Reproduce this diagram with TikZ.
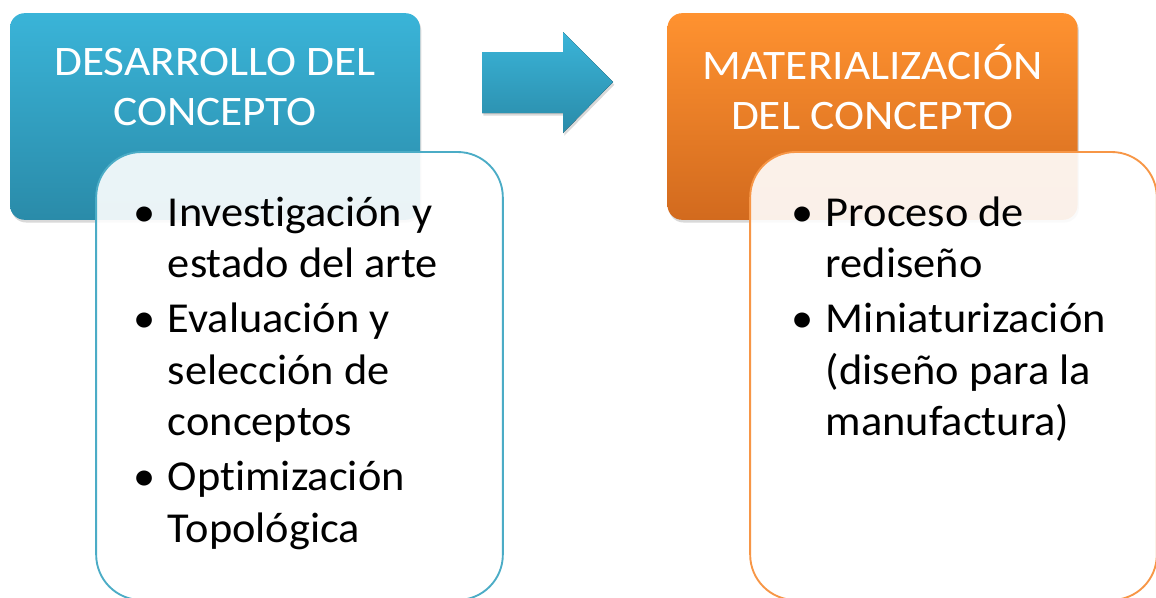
\documentclass[tikz,border=0pt]{standalone}
\usepackage{fontspec}
\setmainfont{Carlito}[Ligatures=NoCommon]
\newfontfamily\titlefont{Carlito}[FakeStretch=1.08,Ligatures=NoCommon]
\newfontfamily\listfont{Carlito}[FakeStretch=1.04,Ligatures=NoCommon]
\usetikzlibrary{shadows}
\definecolor{bluetop}{HTML}{3AB4D8}
\definecolor{bluebot}{HTML}{2A8BA9}
\definecolor{blueline}{HTML}{4BACC6}
\definecolor{orangetop}{HTML}{FF9230}
\definecolor{orangebot}{HTML}{D26A1E}
\definecolor{orangeline}{HTML}{F79646}
\newcommand{\bitem}[1]{\par\hangindent=26pt\hangafter=1\noindent\makebox[26pt][l]{•}#1\par\vspace{3pt}}
\tikzset{
  header/.style={rounded corners=11pt,minimum width=307.5pt,minimum height=155pt,inner sep=0pt,
    drop shadow={shadow xshift=1pt,shadow yshift=-2pt,opacity=0.3}},
  title/.style={text=white,align=center,font=\titlefont\fontsize{31.5}{38}\selectfont},
  listbox/.style={draw,line width=1.4pt,rounded corners=34pt,fill=white,fill opacity=0.9,
    minimum width=305pt,minimum height=336pt,inner sep=0pt},
  listtext/.style={anchor=base west,inner sep=0pt,font=\listfont\fontsize{32}{38.5}\selectfont}
}
\begin{document}
\begin{tikzpicture}[x=0.75pt,y=-0.75pt]
\useasboundingbox (0,0) rectangle (1156,597);
\clip (0,0) rectangle (1156,597);
% left block
\node[header,top color=bluetop,bottom color=bluebot] (dev) at (215,116.5) {};
\node[title] (devtitle) at (215,87) {DESARROLLO DEL\\CONCEPTO};
\node[listbox,draw=blueline] (devlist) at (299.5,376) {};
\node[listtext] (devitems) at (133,226) {\parbox[t]{300pt}{%
  \bitem{Investigación y\newline estado del arte}
  \bitem{Evaluación y\newline selección de\newline conceptos}
  \bitem{Optimización\newline Topológica}}};
% arrow
\fill[top color=bluetop,bottom color=bluebot,drop shadow={shadow xshift=1pt,shadow yshift=-2pt,opacity=0.3}]
  (482,52) -- (563,52) -- (563,32) -- (613,82) -- (563,133) -- (563,113) -- (482,113) -- cycle;
% right block
\node[header,top color=orangetop,bottom color=orangebot] (mat) at (872.5,116.5) {};
\node[title] (mattitle) at (872.5,87) {MATERIALIZACIÓN\\DEL CONCEPTO};
\node[listbox,draw=orangeline] (matlist) at (953.5,376) {};
\node[listtext] (matitems) at (791,226) {\parbox[t]{300pt}{%
  \bitem{Proceso de\newline rediseño}
  \bitem{Miniaturización\newline (diseño para la\newline manufactura)}}};
\end{tikzpicture}
\end{document}
